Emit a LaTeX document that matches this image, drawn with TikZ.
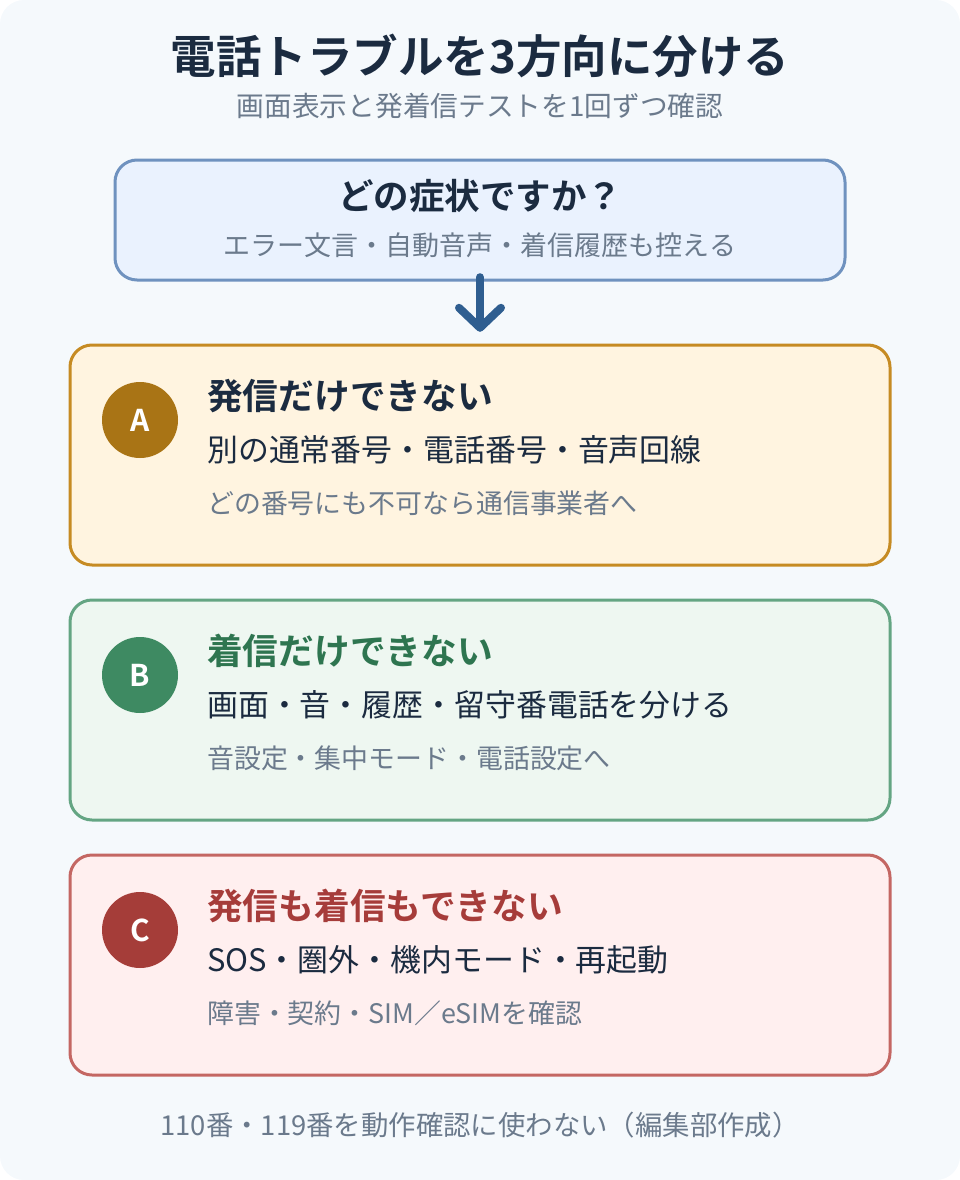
\documentclass[tikz,border=0pt]{standalone}
\usepackage{fontspec}
\setmainfont{Noto Sans CJK JP}[BoldFont={Noto Sans CJK JP Bold}]
\usetikzlibrary{arrows.meta}
\definecolor{bgc}{HTML}{F5F9FC}
\definecolor{ink}{HTML}{1B2B40}
\definecolor{muted}{HTML}{6B7A8C}
\definecolor{qfill}{HTML}{EAF2FE}
\definecolor{qline}{HTML}{6F92BF}
\definecolor{arrowc}{HTML}{2F5E90}
\definecolor{aline}{HTML}{C68B23}
\definecolor{afill}{HTML}{FFF4E0}
\definecolor{acirc}{HTML}{A97415}
\definecolor{bline}{HTML}{64A583}
\definecolor{bfill}{HTML}{EEF7F1}
\definecolor{bcirc}{HTML}{3E8A62}
\definecolor{btitle}{HTML}{2E7550}
\definecolor{cline}{HTML}{C46763}
\definecolor{cfill}{HTML}{FFEFEF}
\definecolor{ccirc}{HTML}{A53D39}
\definecolor{ctitle}{HTML}{A63C3A}
\tikzset{
  card/.style={draw=#1, line width=3pt, rounded corners=22pt},
  badge/.style={circle, fill=#1, minimum size=76pt, inner sep=0pt, text=white, font=\fontsize{30}{30}\selectfont\bfseries},
  ctitle/.style={anchor=west, inner sep=0pt, font=\fontsize{35.7}{35.7}\selectfont\bfseries},
  cmain/.style={anchor=west, inner sep=0pt, text=ink, font=\fontsize{30.9}{30.9}\selectfont},
  csub/.style={anchor=west, inner sep=0pt, text=muted, font=\fontsize{26.9}{26.9}\selectfont},
}
\begin{document}
\begin{tikzpicture}[x=1pt,y=-1pt]
\useasboundingbox (0,0) rectangle (960,1180);
\fill[bgc, rounded corners=24pt] (0,0) rectangle (960,1180);

\node[text=ink, font=\fontsize{45.5}{45.5}\selectfont\bfseries, inner sep=0pt] (title) at (480,56) {電話トラブルを3方向に分ける};
\node[text=muted, font=\fontsize{27.7}{27.7}\selectfont, inner sep=0pt] (subtitle) at (480,106) {画面表示と発着信テストを1回ずつ確認};

% question box
\draw[card=qline, fill=qfill] (115,160) rectangle (845,280);
\node[inner sep=0pt, minimum width=730pt, minimum height=120pt] (q) at (480,220) {};
\node[text=ink, font=\fontsize{35.5}{35.5}\selectfont\bfseries, inner sep=0pt] (qt) at (480,196) {どの症状ですか？};
\node[text=muted, font=\fontsize{27}{27}\selectfont, inner sep=0pt] (qs) at (480,245) {エラー文言・自動音声・着信履歴も控える};

% card A
\draw[card=aline, fill=afill] (70,345) rectangle (890,565);
\node[inner sep=0pt, minimum width=820pt, minimum height=220pt] (a) at (480,455) {};
\node[badge=acirc] (abadge) at (140,420) {A};
\node[ctitle, text=ink] (atitle) at (207,396) {発信だけできない};
\node[cmain] (amain) at (207,450) {別の通常番号・電話番号・音声回線};
\node[csub] (asub) at (207,503) {どの番号にも不可なら通信事業者へ};

% card B
\draw[card=bline, fill=bfill] (70,600) rectangle (890,820);
\node[inner sep=0pt, minimum width=820pt, minimum height=220pt] (b) at (480,710) {};
\node[badge=bcirc] (bbadge) at (140,675) {B};
\node[ctitle, text=btitle] (btitlen) at (207,651) {着信だけできない};
\node[cmain] (bmain) at (207,705) {画面・音・履歴・留守番電話を分ける};
\node[csub] (bsub) at (207,758) {音設定・集中モード・電話設定へ};

% card C
\draw[card=cline, fill=cfill] (70,855) rectangle (890,1075);
\node[inner sep=0pt, minimum width=820pt, minimum height=220pt] (c) at (480,965) {};
\node[badge=ccirc] (cbadge) at (140,930) {C};
\node[ctitle, text=ctitle] (ctitlen) at (207,906) {発信も着信もできない};
\node[cmain] (cmainn) at (207,960) {SOS・圏外・機内モード・再起動};
\node[csub] (csubn) at (207,1013) {障害・契約・SIM／eSIMを確認};

% connector
\draw[arrowc, line width=8pt, line cap=round, shorten <=-3pt, shorten >=13pt,
  -{Straight Barb[length=20pt, width=42pt, line cap=round, line join=round]}] (q.south) -- (a.north);

\node[text=muted, font=\fontsize{27.4}{27.4}\selectfont, inner sep=0pt] (foot) at (480,1125) {110番・119番を動作確認に使わない（編集部作成）};
\end{tikzpicture}
\end{document}
